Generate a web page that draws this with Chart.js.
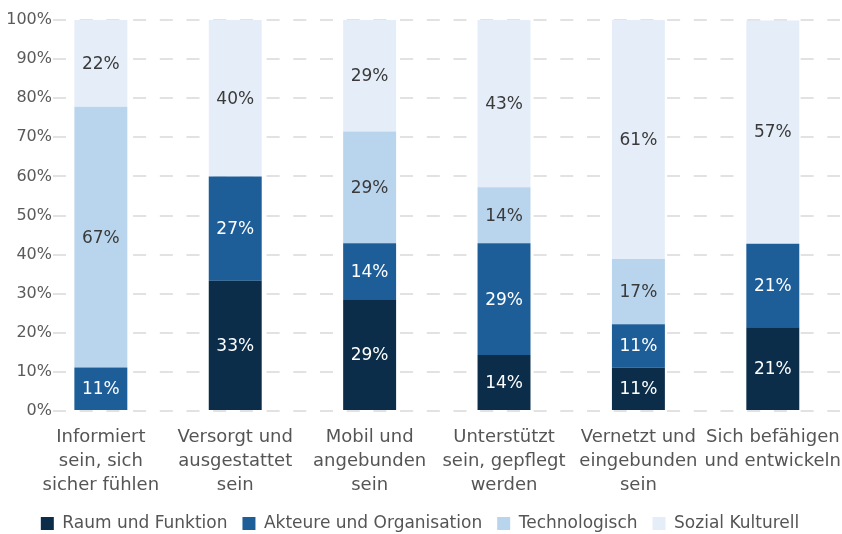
<!DOCTYPE html>
<html>
<head>
<meta charset="utf-8">
<script src="https://cdn.jsdelivr.net/npm/chart.js@4"></script>
<style>
  html, body { margin: 0; padding: 0; background: #ffffff; }
  #wrap { width: 842px; height: 534px; }
</style>
</head>
<body>
<div id="wrap"><canvas id="c" width="842" height="534"></canvas></div>
<script>
const categories = [
  ["Informiert", "sein, sich", "sicher fühlen"],
  ["Versorgt und", "ausgestattet", "sein"],
  ["Mobil und", "angebunden", "sein"],
  ["Unterstützt", "sein, gepflegt", "werden"],
  ["Vernetzt und", "eingebunden", "sein"],
  ["Sich befähigen", "und entwickeln"]
];
const seriesNames = ["Raum und Funktion", "Akteure und Organisation", "Technologisch", "Sozial Kulturell"];
const raumUndFunktion      = [0,    33.3, 28.6, 14.3, 11.1, 21.4];
const akteureOrganisation  = [11.1, 26.7, 14.3, 28.6, 11.1, 21.4];
const technologisch        = [66.7, 0,    28.6, 14.3, 16.7, 0];
const sozialKulturell      = [22.2, 40.0, 28.6, 42.9, 61.1, 57.1];
const yTicks = [0, 10, 20, 30, 40, 50, 60, 70, 80, 90, 100];

const colors = ["#0b2d4a", "#1d5d98", "#b9d5ed", "#e5eef8"];
const labelColors = ["#ffffff", "#ffffff", "#3a3a3a", "#3a3a3a"];
const FONT = "'DejaVu Sans', sans-serif";

const allSeries = [raumUndFunktion, akteureOrganisation, technologisch, sozialKulturell];

const datasets = allSeries.map((vals, si) => ({
  label: seriesNames[si],
  data: vals.map((v, i) => ({ x: i, y: v })),
  backgroundColor: colors[si],
  borderWidth: 0,
  categoryPercentage: 1,
  barPercentage: 0.394
}));

const valueLabels = {
  id: 'valueLabels',
  afterDatasetsDraw(chart) {
    const ctx = chart.ctx;
    ctx.save();
    ctx.font = "17px " + FONT;
    ctx.textAlign = "center";
    ctx.textBaseline = "middle";
    chart.data.datasets.forEach((ds, di) => {
      const meta = chart.getDatasetMeta(di);
      meta.data.forEach((el, i) => {
        const v = ds.data[i].y;
        if (!v) return;
        ctx.fillStyle = labelColors[di];
        ctx.fillText(Math.round(v) + "%", el.x, (el.y + el.base) / 2 + 1);
      });
    });
    ctx.restore();
  }
};

new Chart(document.getElementById('c'), {
  type: 'bar',
  data: { datasets },
  plugins: [valueLabels],
  options: {
    responsive: false,
    animation: false,
    layout: { padding: { top: 20, right: 2, left: 0, bottom: -8 } },
    plugins: {
      legend: {
        position: 'bottom',
        labels: {
          boxWidth: 13, boxHeight: 13, padding: 15,
          color: '#555555',
          font: { family: FONT, size: 17 }
        }
      },
      tooltip: { enabled: false }
    },
    scales: {
      x: {
        type: 'linear',
        stacked: true,
        offset: false,
        min: -0.356,
        max: 5.5,
        grid: { display: false, drawTicks: false },
        border: { display: false },
        afterBuildTicks: (s) => { s.ticks = categories.map((c, i) => ({ value: i })); },
        afterFit: (s) => { s.paddingLeft = 0; s.paddingRight = 0; s.height = 89; },
        ticks: {
          autoSkip: false, maxRotation: 0, minRotation: 0,
          padding: 14,
          color: '#555555',
          font: { family: FONT, size: 18, lineHeight: 1.33 },
          callback: (v) => categories[v]
        }
      },
      y: {
        stacked: true,
        min: 0, max: 100,
        afterFit: (s) => { s.width = 53; },
        afterBuildTicks: (s) => { s.ticks = yTicks.map(v => ({ value: v })); },
        border: { display: false, dash: [13, 13.7] },
        grid: {
          color: '#e2e2e2', lineWidth: 2, drawTicks: false
        },
        ticks: {
          padding: 1,
          color: '#5a5a5a',
          font: { family: FONT, size: 16 },
          callback: (v) => v + '%'
        }
      }
    }
  }
});
</script>
</body>
</html>
